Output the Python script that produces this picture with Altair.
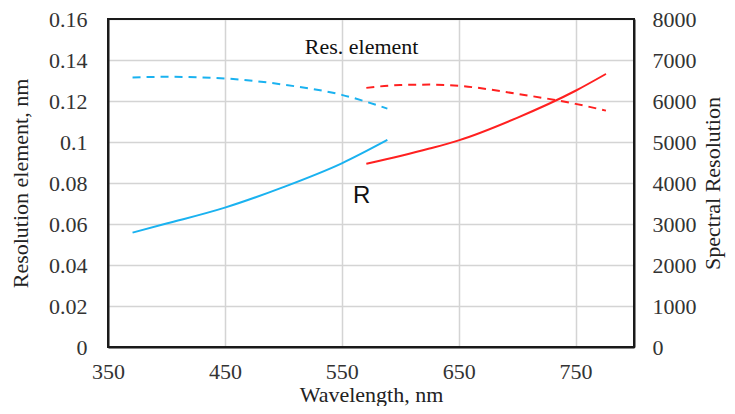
import altair as alt
import pandas as pd

# Blue channel (short wavelengths)
blue_wl = [371, 400, 450, 500, 550, 589]
blue_res = [0.1315, 0.1318, 0.1310, 0.1280, 0.1230, 0.1163]
blue_R = [2790, 3010, 3400, 3900, 4480, 5050]

# Red channel (long wavelengths)
red_wl = [571, 600, 625, 650, 700, 750, 776]
red_res = [0.1264, 0.1278, 0.1280, 0.1274, 0.1235, 0.1186, 0.1153]
red_R = [4470, 4660, 4840, 5040, 5590, 6250, 6660]

# Annotations (positioned in left-axis units)
ann1_text = ["Res. element"]
ann1_wl = [567]
ann1_val = [0.1462]
ann2_text = ["R"]
ann2_wl = [567]
ann2_val = [0.0738]

x_ticks = [350, 450, 550, 650, 750]
x_domain = [350, 800]
left_ticks = [0, 0.02, 0.04, 0.06, 0.08, 0.1, 0.12, 0.14, 0.16]
left_domain = [0, 0.16]
right_ticks = [0, 1000, 2000, 3000, 4000, 5000, 6000, 7000, 8000]
right_domain = [0, 8000]

df = pd.DataFrame({
    "wl": blue_wl + red_wl,
    "res": blue_res + red_res,
    "R": blue_R + red_R,
    "series": ["blue"] * len(blue_wl) + ["red"] * len(red_wl),
})
ann1 = pd.DataFrame({"wl": ann1_wl, "res": ann1_val, "text": ann1_text})
ann2 = pd.DataFrame({"wl": ann2_wl, "res": ann2_val, "text": ann2_text})
frame = pd.DataFrame({"x0": [x_domain[0]], "x1": [x_domain[1]], "y0": [left_domain[0]], "y1": [left_domain[1]]})

SERIF = "Liberation Serif"
FS = 22
FRAME = "#1a1a1a"
GRID = "#d4d4d4"

xscale = alt.Scale(domain=x_domain, nice=False, zero=False)
xenc = alt.X(
    "wl:Q",
    scale=xscale,
    axis=alt.Axis(
        values=x_ticks, title="Wavelength,  nm", grid=True, ticks=False,
        domain=True, domainColor=FRAME, domainWidth=2,
        labelFlush=False, labelPadding=14, titleBaseline="alphabetic", titleY=54,
        labelFont=SERIF, labelFontSize=FS,
        titleFont=SERIF, titleFontSize=FS, titleFontWeight="normal",
        labelColor="#333333", titleColor="#222222", gridColor=GRID, gridWidth=1.5,
    ),
)
color = alt.Color("series:N", scale=alt.Scale(domain=["blue", "red"], range=["#1AB2F0", "#FF2020"]), legend=None)

left_scale = alt.Scale(domain=left_domain, nice=False)
left_axis = alt.Axis(
    values=left_ticks, format=".2~f", title="Resolution element, nm", grid=True, ticks=False,
    domain=True, domainColor=FRAME, domainWidth=2,
    labelFlush=False, labelPadding=21, titlePadding=16, labelFont=SERIF,
    labelFontSize=FS, titleFont=SERIF, titleFontSize=FS, titleFontWeight="normal",
    labelColor="#333333", titleColor="#222222", gridColor=GRID, gridWidth=1.5,
)

dashed = alt.Chart(df).mark_line(strokeDash=[8, 6], strokeWidth=2, interpolate="monotone").encode(
    x=xenc,
    y=alt.Y("res:Q", scale=left_scale, axis=left_axis),
    color=color,
    detail="series:N",
)

box = alt.Chart(frame).mark_rect(fill="transparent", stroke=FRAME, strokeWidth=2, opacity=1, strokeOpacity=1).encode(
    x=alt.X("x0:Q"),
    x2="x1:Q",
    y=alt.Y("y0:Q"),
    y2="y1:Q",
)

text1 = alt.Chart(ann1).mark_text(fontSize=FS, font=SERIF, color="#111111", baseline="middle", align="center").encode(
    x=alt.X("wl:Q"),
    y=alt.Y("res:Q"),
    text="text:N",
)
text2 = alt.Chart(ann2).mark_text(fontSize=24, font="Liberation Sans", color="#111111", baseline="middle", align="center").encode(
    x=alt.X("wl:Q"),
    y=alt.Y("res:Q"),
    text="text:N",
)

left = alt.layer(dashed, box, text1, text2)

solid = alt.Chart(df).mark_line(strokeWidth=2, interpolate="monotone").encode(
    x=xenc,
    y=alt.Y(
        "R:Q",
        scale=alt.Scale(domain=right_domain, nice=False),
        axis=alt.Axis(
            values=right_ticks, format="d", orient="right", title="Spectral Resolution",
            grid=False, ticks=False, domain=True, domainColor=FRAME, domainWidth=2,
            labelFlush=False, labelPadding=18,
            titlePadding=6, titleAngle=270, titleBaseline="top", labelFont=SERIF,
            labelFontSize=FS, titleFont=SERIF, titleFontSize=FS, titleFontWeight="normal",
            labelColor="#333333", titleColor="#222222",
        ),
    ),
    color=color,
    detail="series:N",
)

chart = (
    alt.layer(left, solid)
    .resolve_scale(y="independent")
    .properties(
        width=526,
        height=328,
        background="white",
        autosize=alt.AutoSizeParams(type="none"),
        padding={"left": 100, "top": 11, "right": 93, "bottom": 59},
    )
    .configure_view(stroke=FRAME, strokeWidth=2)
)

chart.save("out.html", embed_options={"renderer": "svg", "actions": False})
